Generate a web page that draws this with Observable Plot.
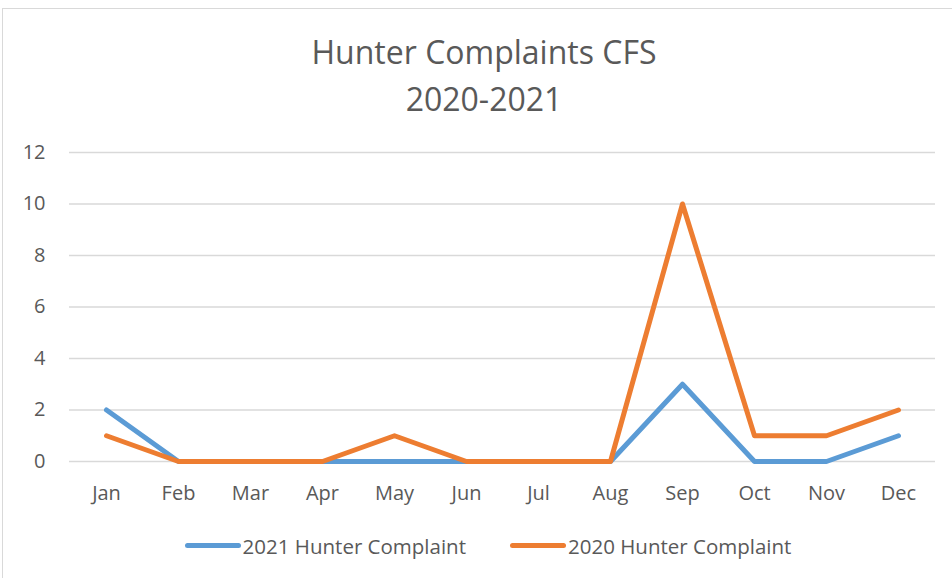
<!DOCTYPE html>
<html>
<head>
<meta charset="utf-8">
<script src="https://cdn.jsdelivr.net/npm/d3@7"></script>
<script src="https://cdn.jsdelivr.net/npm/@observablehq/plot@0.6"></script>
<style>
  html, body { margin: 0; padding: 0; background: #fff; overflow: hidden; }
  #wrap { position: relative; width: 952px; height: 578px; font-family: "Open Sans", sans-serif; color: #595959; }
  #frame { position: absolute; left: 2px; top: 8px; width: 1000px; height: 700px; border: 1px solid #D9D9D9; box-sizing: border-box; }
  #title { position: absolute; left: 0; width: 968px; top: 28px; text-align: center; font-size: 32px; line-height: 47px; color: #595959; }
  #legend { position: absolute; left: 0; width: 976px; top: 526px; text-align: center; font-size: 20.5px; color: #595959; white-space: nowrap; }
  .item { display: inline-flex; align-items: center; margin: 0 22px; }
  .sw { display: inline-block; width: 56px; height: 5px; border-radius: 3px; margin-right: 2px; }
  #chart { position: absolute; left: 0; top: 0; }
</style>
</head>
<body>
<div id="wrap">
  <div id="frame"></div>
  <div id="chart"></div>
  <div id="title">Hunter Complaints CFS<br>2020-2021</div>
  <div id="legend"></div>
</div>
<script>
const months = ["Jan","Feb","Mar","Apr","May","Jun","Jul","Aug","Sep","Oct","Nov","Dec"];
const series2021 = [2,0,0,0,0,0,0,0,3,0,0,1];
const series2020 = [1,0,0,0,1,0,0,0,10,1,1,2];
const seriesNames = ["2021 Hunter Complaint", "2020 Hunter Complaint"];
const seriesColors = ["#5B9BD5", "#ED7D31"];
const yTicks = [0,2,4,6,8,10,12];

const data2021 = months.map((m, i) => ({month: m, value: series2021[i]}));
const data2020 = months.map((m, i) => ({month: m, value: series2020[i]}));

const plot = Plot.plot({
  width: 952,
  height: 578,
  marginTop: 152,
  marginBottom: 117,
  marginLeft: 69,
  marginRight: 17,
  style: {fontFamily: "Open Sans, sans-serif", fontSize: "20px", color: "#595959", background: "transparent"},
  x: {type: "point", domain: months, padding: 0.48, label: null},
  y: {domain: [0, 12], ticks: yTicks, label: null},
  marks: [
    Plot.gridY(yTicks, {stroke: "#D9D9D9", strokeOpacity: 1, strokeWidth: 1.5}),
    Plot.axisY(yTicks, {tickSize: 0, tickPadding: 24, fontSize: 20, fill: "#595959", label: null}),
    Plot.axisX(months, {tickSize: 0, tickPadding: 24, fontSize: 20, fill: "#595959", label: null}),
    Plot.line(data2021, {x: "month", y: "value", stroke: seriesColors[0], strokeWidth: 5, strokeLinecap: "round", strokeLinejoin: "round"}),
    Plot.line(data2020, {x: "month", y: "value", stroke: seriesColors[1], strokeWidth: 5, strokeLinecap: "round", strokeLinejoin: "round"})
  ]
});
document.getElementById("chart").appendChild(plot);

const legend = document.getElementById("legend");
seriesNames.forEach((name, i) => {
  const item = document.createElement("span");
  item.className = "item";
  const sw = document.createElement("span");
  sw.className = "sw";
  sw.style.background = seriesColors[i];
  const t = document.createElement("span");
  t.textContent = name;
  item.appendChild(sw);
  item.appendChild(t);
  legend.appendChild(item);
});
</script>
</body>
</html>
